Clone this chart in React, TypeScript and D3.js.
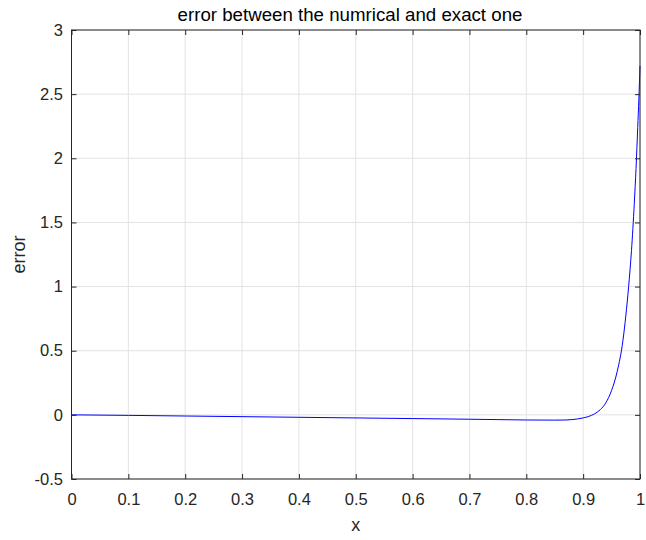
import React, { useEffect, useRef } from 'react';
import * as d3 from 'd3';

// values
const xValues = [0, 0.1, 0.2, 0.3, 0.4, 0.5, 0.6, 0.7, 0.75, 0.8, 0.85, 0.87, 0.88, 0.89, 0.9, 0.91, 0.92, 0.93, 0.94, 0.95, 0.96, 0.97, 0.975, 0.98, 0.985, 0.99, 0.993, 0.996, 0.998, 1];
const errorValues = [0, -0.004, -0.009, -0.014, -0.019, -0.024, -0.029, -0.034, -0.037, -0.040, -0.041, -0.040, -0.037, -0.032, -0.024, -0.012, 0.008, 0.040, 0.095, 0.19, 0.34, 0.58, 0.77, 1.00, 1.28, 1.65, 1.92, 2.24, 2.46, 2.72];
const xTicks = [0, 0.1, 0.2, 0.3, 0.4, 0.5, 0.6, 0.7, 0.8, 0.9, 1];
const yTicks = [-0.5, 0, 0.5, 1, 1.5, 2, 2.5, 3];

const titleText = 'error between the numrical and exact one';
const xLabel = 'x';
const yLabel = 'error';

const App = () => {
  const svgRef = useRef<SVGSVGElement>(null);

  useEffect(() => {
    const W = 646;
    const H = 540;
    const margin = { top: 30, right: 6, bottom: 61, left: 71.5 };
    const width = W - margin.left - margin.right;
    const height = H - margin.top - margin.bottom;
    const font = '"Liberation Sans", Arial, Helvetica, sans-serif';

    const root = d3.select(svgRef.current);
    root.selectAll('*').remove();
    root.attr('width', W).attr('height', H);

    root.append('rect').attr('width', W).attr('height', H).attr('fill', '#fff');

    const svg = root.append('g').attr('transform', `translate(${margin.left},${margin.top})`);

    const x = d3.scaleLinear().domain([0, 1]).range([0, width]);
    const y = d3.scaleLinear().domain([-0.5, 3]).range([height, 0]);

    // grid
    svg.append('g')
      .selectAll('line.gx')
      .data(xTicks)
      .enter()
      .append('line')
      .attr('x1', d => x(d)).attr('x2', d => x(d))
      .attr('y1', 0).attr('y2', height)
      .attr('stroke', '#e3e3e3').attr('stroke-width', 1);
    svg.append('g')
      .selectAll('line.gy')
      .data(yTicks)
      .enter()
      .append('line')
      .attr('x1', 0).attr('x2', width)
      .attr('y1', d => y(d)).attr('y2', d => y(d))
      .attr('stroke', '#e3e3e3').attr('stroke-width', 1);

    // curve
    const line = d3.line<number>()
      .x((_, i) => x(xValues[i]))
      .y(d => y(d))
      .curve(d3.curveMonotoneX);
    svg.append('path')
      .datum(errorValues)
      .attr('d', line)
      .attr('fill', 'none')
      .attr('stroke', '#0000ff')
      .attr('stroke-width', 1);

    const axisColor = '#262626';
    const style = (g: any) => {
      g.select('.domain').remove();
      g.selectAll('line').attr('stroke', axisColor);
      g.selectAll('text')
        .attr('fill', axisColor)
        .style('font-family', font)
        .style('font-size', '16.5px');
    };
    const fmt = (d: any) => String(d);

    // bottom / left axes with inward ticks
    svg.append('g')
      .attr('transform', `translate(0,${height})`)
      .call(d3.axisBottom(x).tickValues(xTicks).tickFormat(fmt).tickSizeInner(-5).tickSizeOuter(0).tickPadding(14))
      .call(style);
    svg.append('g')
      .call(d3.axisLeft(y).tickValues(yTicks).tickFormat(fmt).tickSizeInner(-5).tickSizeOuter(0).tickPadding(8.5))
      .call(style);
    // top / right ticks
    svg.append('g')
      .call(d3.axisTop(x).tickValues(xTicks).tickFormat(() => '').tickSizeInner(-5).tickSizeOuter(0))
      .call(style);
    svg.append('g')
      .attr('transform', `translate(${width},0)`)
      .call(d3.axisRight(y).tickValues(yTicks).tickFormat(() => '').tickSizeInner(-5).tickSizeOuter(0))
      .call(style);

    // box
    svg.append('rect')
      .attr('x', 0).attr('y', 0)
      .attr('width', width).attr('height', height)
      .attr('fill', 'none')
      .attr('stroke', axisColor)
      .attr('stroke-width', 1);

    root.append('text')
      .attr('x', 350)
      .attr('y', 21)
      .attr('text-anchor', 'middle')
      .style('font-family', font)
      .style('font-size', '18.7px')
      .attr('fill', '#000')
      .text(titleText);

    root.append('text')
      .attr('x', margin.left + width / 2)
      .attr('y', 531)
      .attr('text-anchor', 'middle')
      .style('font-family', font)
      .style('font-size', '18px')
      .attr('fill', axisColor)
      .text(xLabel);

    root.append('text')
      .attr('transform', `translate(25,${margin.top + height / 2}) rotate(-90)`)
      .attr('text-anchor', 'middle')
      .style('font-family', font)
      .style('font-size', '18px')
      .attr('fill', axisColor)
      .text(yLabel);
  }, []);

  return (
    <svg ref={svgRef} style={{ position: 'absolute', left: 0, top: 0 }}></svg>
  );
};

export default App;
